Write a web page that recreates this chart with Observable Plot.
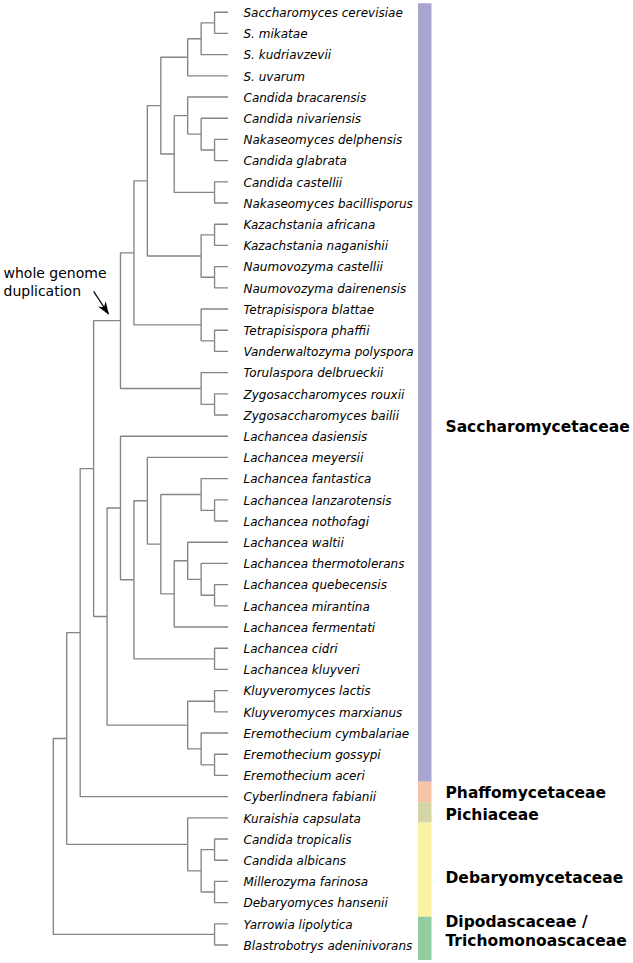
<!DOCTYPE html>
<html><head><meta charset="utf-8">
<script src="https://cdn.jsdelivr.net/npm/d3@7"></script>
<script src="https://cdn.jsdelivr.net/npm/@observablehq/plot@0.6"></script>
<style>body{margin:0;background:#fff} svg{display:block}</style>
</head><body><div id="chart"></div>
<script>
// ---- DATA ----
const leaves = [
  "Saccharomyces cerevisiae","S. mikatae","S. kudriavzevii","S. uvarum",
  "Candida bracarensis","Candida nivariensis","Nakaseomyces delphensis","Candida glabrata",
  "Candida castellii","Nakaseomyces bacillisporus","Kazachstania africana","Kazachstania naganishii",
  "Naumovozyma castellii","Naumovozyma dairenensis","Tetrapisispora blattae","Tetrapisispora phaffii",
  "Vanderwaltozyma polyspora","Torulaspora delbrueckii","Zygosaccharomyces rouxii","Zygosaccharomyces bailii",
  "Lachancea dasiensis","Lachancea meyersii","Lachancea fantastica","Lachancea lanzarotensis",
  "Lachancea nothofagi","Lachancea waltii","Lachancea thermotolerans","Lachancea quebecensis",
  "Lachancea mirantina","Lachancea fermentati","Lachancea cidri","Lachancea kluyveri",
  "Kluyveromyces lactis","Kluyveromyces marxianus","Eremothecium cymbalariae","Eremothecium gossypi",
  "Eremothecium aceri","Cyberlindnera fabianii","Kuraishia capsulata","Candida tropicalis",
  "Candida albicans","Millerozyma farinosa","Debaryomyces hansenii","Yarrowia lipolytica",
  "Blastrobotrys adeninivorans"
];
// [clade id, depth level, child, child]
const clades = [
  ["sc1", 12, "Saccharomyces cerevisiae", "S. mikatae"],
  ["sc2", 11, "sc1", "S. kudriavzevii"],
  ["sacch", 10, "sc2", "S. uvarum"],
  ["nk1", 12, "Nakaseomyces delphensis", "Candida glabrata"],
  ["nk2", 11, "Candida nivariensis", "nk1"],
  ["nk3", 10, "Candida bracarensis", "nk2"],
  ["nk4", 12, "Candida castellii", "Nakaseomyces bacillisporus"],
  ["naka", 9, "nk3", "nk4"],
  ["F", 8, "sacch", "naka"],
  ["kz1", 12, "Kazachstania africana", "Kazachstania naganishii"],
  ["kz2", 12, "Naumovozyma castellii", "Naumovozyma dairenensis"],
  ["kazn", 11, "kz1", "kz2"],
  ["E", 7, "F", "kazn"],
  ["tp1", 12, "Tetrapisispora phaffii", "Vanderwaltozyma polyspora"],
  ["tetra", 11, "Tetrapisispora blattae", "tp1"],
  ["D", 6, "E", "tetra"],
  ["zy1", 12, "Zygosaccharomyces rouxii", "Zygosaccharomyces bailii"],
  ["toru", 11, "Torulaspora delbrueckii", "zy1"],
  ["WGD", 5, "D", "toru"],
  ["la1", 12, "Lachancea lanzarotensis", "Lachancea nothofagi"],
  ["la2", 11, "Lachancea fantastica", "la1"],
  ["la3", 12, "Lachancea quebecensis", "Lachancea mirantina"],
  ["la4", 11, "Lachancea thermotolerans", "la3"],
  ["la5", 10, "Lachancea waltii", "la4"],
  ["la6", 9, "la5", "Lachancea fermentati"],
  ["la7", 8, "la2", "la6"],
  ["la8", 7, "Lachancea meyersii", "la7"],
  ["la9", 12, "Lachancea cidri", "Lachancea kluyveri"],
  ["la10", 6, "la8", "la9"],
  ["lach", 5, "Lachancea dasiensis", "la10"],
  ["kl1", 12, "Kluyveromyces lactis", "Kluyveromyces marxianus"],
  ["er1", 12, "Eremothecium gossypi", "Eremothecium aceri"],
  ["er2", 11, "Eremothecium cymbalariae", "er1"],
  ["kler", 10, "kl1", "er2"],
  ["kle", 4, "lach", "kler"],
  ["C", 3, "WGD", "kle"],
  ["B", 2, "C", "Cyberlindnera fabianii"],
  ["de1", 12, "Candida tropicalis", "Candida albicans"],
  ["de2", 12, "Millerozyma farinosa", "Debaryomyces hansenii"],
  ["de3", 11, "de1", "de2"],
  ["deb", 10, "Kuraishia capsulata", "de3"],
  ["A", 1, "B", "deb"],
  ["ya", 12, "Yarrowia lipolytica", "Blastrobotrys adeninivorans"],
  ["root", 0, "A", "ya"]
];
const leafLevel = 13;
const families = ["Saccharomycetaceae", "Phaffomycetaceae", "Pichiaceae", "Debaryomycetaceae", "Dipodascaceae /\nTrichomonoascaceae"];
const familyColors = ["#a8a5d1", "#f5c3a8", "#d5d6a6", "#f8f4a3", "#91cda1"];
const familyStart = [-0.4, 36.32, 37.29, 38.25, 42.69];   // in leaf-row units
const familyEnd   = [36.32, 37.29, 38.25, 42.69, 44.73];
const familyLabelRow = [19.5, 36.8, 37.8, 40.8, 43.32];
const annotationNode = "WGD";
const annotationText = "whole genome\nduplication";

// ---- TREE LAYOUT (cladogram: leaves in rows, nodes at depth levels) ----
const nodes = new Map();
leaves.forEach((name, i) => nodes.set(name, {id: name, level: leafLevel, y: i, children: []}));
clades.forEach(([id, level, ...kids]) => nodes.set(id, {id, level, children: kids}));
clades.forEach(([id, , ...kids]) => kids.forEach(k => nodes.get(k).parent = id));
function yOf(id) {
  const n = nodes.get(id);
  if (n.y === undefined) {
    const ys = n.children.map(yOf);
    n.y = (Math.min(...ys) + Math.max(...ys)) / 2;
  }
  return n.y;
}
yOf("root");
const edges = [];
clades.forEach(([id, , ...kids]) => {
  const p = nodes.get(id);
  kids.forEach(k => {
    const c = nodes.get(k);
    edges.push({x1: p.level, y1: p.y, x2: c.level, y2: c.y});
  });
});
const leafData = leaves.map((name, i) => ({name, level: leafLevel, row: i}));
const famData = families.map((f, i) => ({name: f, color: familyColors[i], start: familyStart[i], end: familyEnd[i], row: familyLabelRow[i]}));

const wgd = nodes.get(annotationNode);
const wgdParent = nodes.get(wgd.parent);
const arrowData = [{
  x1: wgdParent.level, y1: wgd.y - 1.38,
  x2: (wgdParent.level + wgd.level) / 2 + 0.1, y2: wgd.y - 0.32
}];

const W = 633, H = 963;
const chart = Plot.plot({
  width: W, height: H,
  marginLeft: 0, marginRight: 0, marginTop: 0, marginBottom: 0,
  style: {fontFamily: "'DejaVu Sans', sans-serif", background: "white", overflow: "visible"},
  x: {domain: [0, leafLevel], range: [52.8, 227.5], axis: null},
  y: {domain: [0, leaves.length - 1], range: [11.7, 944.5], axis: null},
  marks: [
    Plot.rect(famData, {y1: "start", y2: "end", fill: "color", insetLeft: 418, insetRight: W - 431.5}),
    Plot.link(edges, {x1: "x1", y1: "y1", x2: "x2", y2: "y2", curve: "step-before", stroke: "#858585", strokeWidth: 1.35}),
    Plot.text(leafData, {x: "level", y: "row", text: "name", dx: 15.5, dy: 1, textAnchor: "start", fontStyle: "italic", fontSize: 12, fill: "#000"}),
    Plot.text(famData, {y: "row", text: "name", frameAnchor: "left", dx: 445, textAnchor: "start", fontWeight: "bold", fontSize: 15.5, lineHeight: 1.23, fill: "#000"}),
    Plot.link(arrowData, {x1: "x1", y1: "y1", x2: "x2", y2: "y2", stroke: "black", strokeWidth: 1.2, markerEnd: "arrow"}),
    Plot.text([annotationText], {text: d => d, frameAnchor: "top-left", dx: 3, dy: 264.5, lineAnchor: "top", textAnchor: "start", fontSize: 14, lineHeight: 1.286, fill: "#000"})
  ]
});
// make the annotation arrowhead a filled dart
d3.select(chart).selectAll("marker").each(function() {
  const m = d3.select(this);
  m.attr("viewBox", "-13 -5 14 10").attr("markerWidth", 14).attr("markerHeight", 10)
   .attr("markerUnits", "userSpaceOnUse").attr("fill", "black").attr("stroke", "none");
  m.selectAll("path").attr("d", "M1,0 L-12,-4.6 L-8,0 L-12,4.6 Z");
});
document.getElementById("chart").appendChild(chart);
</script>
</body></html>
